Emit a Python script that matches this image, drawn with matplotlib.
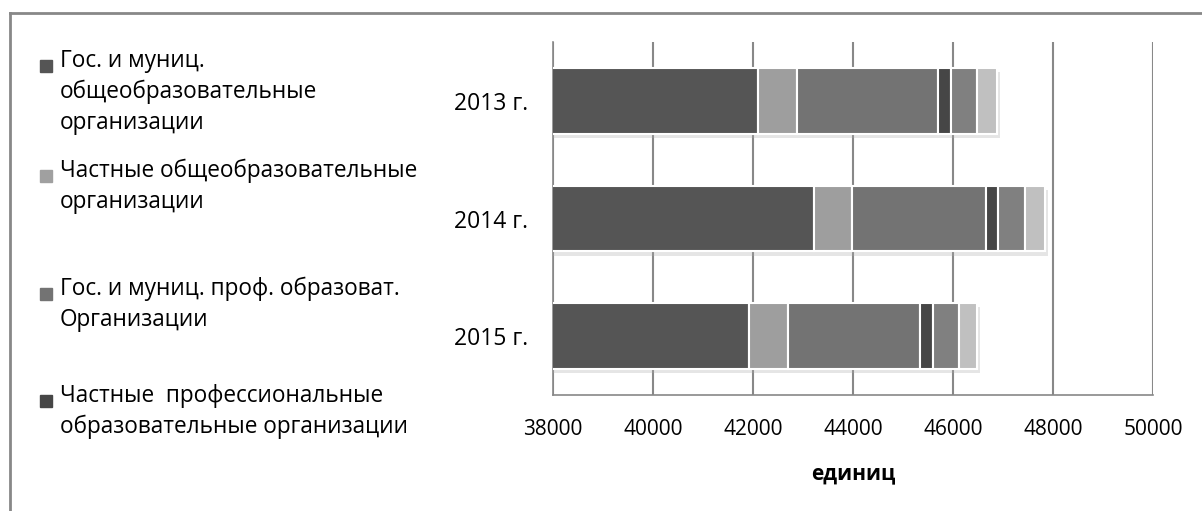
import matplotlib.pyplot as plt
from matplotlib.patches import Rectangle
from matplotlib.lines import Line2D
import matplotlib.patheffects as pe

plt.rcParams['font.family'] = ['Open Sans', 'DejaVu Sans']

years = ['2013 г.', '2014 г.', '2015 г.']

# segment widths, units
gos_obsh = [42100, 43220, 41910]
chast_obsh = [770, 760, 785]
gos_prof = [2830, 2680, 2645]
chast_prof = [265, 240, 250]
gos_vuz = [510, 540, 525]
chast_vuz = [410, 400, 360]

series = [gos_obsh, chast_obsh, gos_prof, chast_prof, gos_vuz, chast_vuz]
colors = ['#555555', '#9e9e9e', '#737373', '#464646', '#808080', '#c0c0c0']

legend_labels = [
    'Гос. и муниц.\nобщеобразовательные\nорганизации',
    'Частные общеобразовательные\nорганизации',
    'Гос. и муниц. проф. образоват.\nОрганизации',
    'Частные  профессиональные\nобразовательные организации',
]
legend_colors = ['#555555', '#a0a0a0', '#737373', '#464646']

W, H = 1202, 511
fig = plt.figure(figsize=(W / 100, H / 100), dpi=100)
ax = fig.add_axes([553 / W, 1 - 395 / H, 600 / W, 353 / H])

ypos = list(range(len(years)))
left = [0] * len(years)
shadow = [pe.SimplePatchShadow(offset=(2, -3), shadow_rgbFace='#aaaaaa', alpha=0.3), pe.Normal()]
for vals, c in zip(series, colors):
    bars = ax.barh(ypos, vals, left=left, height=0.56, color=c,
                   edgecolor='white', linewidth=1.5, zorder=3)
    for b in bars:
        b.set_path_effects(shadow)
    left = [l + v for l, v in zip(left, vals)]

ax.set_xlim(38000, 50000)
ax.set_ylim(2.5, -0.5)
ax.set_xticks(range(38000, 50001, 2000))
ax.set_yticks(ypos)
ax.set_yticklabels(years, fontsize=16.5)
ax.tick_params(axis='x', length=0, pad=17, labelsize=15)
ax.tick_params(axis='y', length=0, pad=18)
ax.grid(axis='x', color='#888888', linewidth=1.5, zorder=0)
for s in ['top', 'right']:
    ax.spines[s].set_visible(False)
for s in ['left', 'bottom']:
    ax.spines[s].set_color('#888888')
    ax.spines[s].set_linewidth(1.2)
ax.set_xlabel('единиц', fontsize=15, fontweight='bold', labelpad=17)

# outer frame
fig.add_artist(Line2D([10 / W, 10 / W], [0, 1 - 13 / H], color='#888888', linewidth=2))
fig.add_artist(Line2D([10 / W, 1], [1 - 13 / H, 1 - 13 / H], color='#888888', linewidth=2))

# legend drawn by hand
legend_y = [65, 175, 293, 400]
for lab, c, y in zip(legend_labels, legend_colors, legend_y):
    fig.add_artist(Rectangle((40 / W, 1 - (y + 7) / H), 12 / W, 12 / H, color=c,
                             transform=fig.transFigure))
    fig.text(60 / W, 1 - (y - 16) / H, lab, fontsize=16.3, va='top', ha='left',
             linespacing=1.38)

fig.savefig('out.png', dpi=100)
